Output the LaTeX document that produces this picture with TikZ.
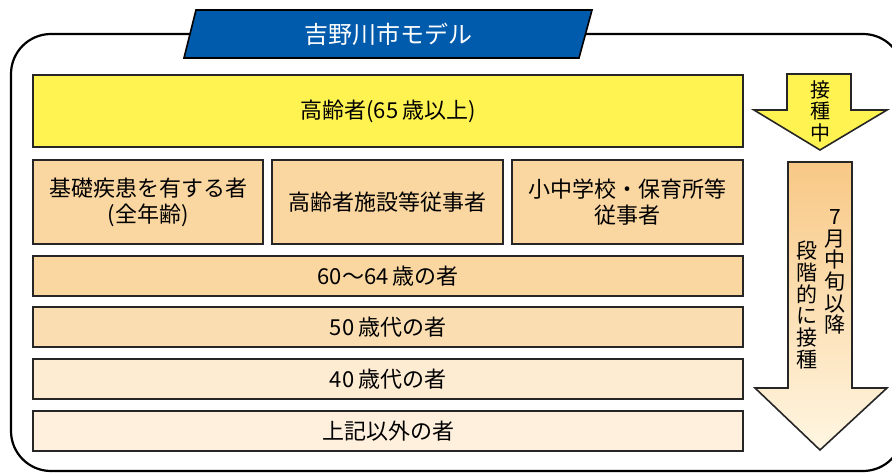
\documentclass[tikz,border=0pt]{standalone}
\usepackage{fontspec}
\setmainfont{Noto Sans CJK JP}
\usetikzlibrary{positioning}
\definecolor{modelblue}{HTML}{005BAC}
\definecolor{nowyellow}{HTML}{FFF352}
\definecolor{groupA}{HTML}{FAD6A0}
\definecolor{groupB}{HTML}{FBDDB2}
\definecolor{groupC}{HTML}{FDEBD2}
\definecolor{groupD}{HTML}{FEF0DD}
\definecolor{arrowtop}{HTML}{F8C885}
\definecolor{arrowbot}{HTML}{FFF6E2}
\tikzset{
  agebox/.style={draw=black!85, line width=1.6pt, inner sep=0pt},
  boxtext/.style={font=\fontsize{22}{26}\selectfont, align=center},
  tatetext/.style={font=\fontsize{20}{21.5}\selectfont, align=center, inner sep=0pt},
}
\begin{document}
\begin{tikzpicture}[x=1pt, y=-1pt]
\useasboundingbox (0,0) rectangle (892,473);
% frame
\draw[line width=2.2pt, rounded corners=40pt] (11,34) rectangle (903,471);
% title
\draw[fill=modelblue, draw=black, line width=1.6pt] (196,10) -- (592,10) -- (579,58) -- (184,58) -- cycle;
\node[text=white, font=\fontsize{24}{28}\selectfont] (title) at (388,34) {吉野川市モデル};
% groups
\node[agebox, boxtext, fill=nowyellow, minimum width=710pt, minimum height=72pt] (elder) at (388,111) {高齢者(65\,歳以上)};
\node[agebox, boxtext, fill=groupA, minimum width=230pt, minimum height=84pt] (disease) at (148,202) {基礎疾患を有する者\\(全年齢)};
\node[agebox, boxtext, fill=groupA, minimum width=231pt, minimum height=84pt] (facility) at (387.5,202) {高齢者施設等従事者};
\node[agebox, boxtext, fill=groupA, minimum width=231pt, minimum height=84pt] (school) at (627.5,202) {小中学校・保育所等\\従事者};
\node[agebox, boxtext, fill=groupA, minimum width=710pt, minimum height=40pt] (age60) at (388,276) {60～64\,歳の者};
\node[agebox, boxtext, fill=groupB, minimum width=710pt, minimum height=40pt] (age50) at (388,327) {50\,歳代の者};
\node[agebox, boxtext, fill=groupC, minimum width=710pt, minimum height=40pt] (age40) at (388,379) {40\,歳代の者};
\node[agebox, boxtext, fill=groupD, minimum width=710pt, minimum height=40pt] (others) at (388,431) {上記以外の者};
% arrows
\draw[fill=nowyellow, draw=black!85, line width=1.6pt] (787,74) -- (851,74) -- (851,110) -- (887,110)
  -- (820,150) -- (754,110) -- (787,110) -- cycle;
\node[tatetext] (now) at (820,111) {接\\種\\中};
\path[top color=arrowtop, bottom color=arrowbot, draw=black!85, line width=1.6pt] (788,162) -- (852,162) -- (852,388)
  -- (887,388) -- (820,450) -- (755,388) -- (788,388) -- cycle;
\node[tatetext, font=\fontsize{21}{21.7}\selectfont] (july) at (835,272) {7\\月\\中\\旬\\以\\降};
\node[tatetext, font=\fontsize{21}{21.7}\selectfont] (step) at (807,305) {段\\階\\的\\に\\接\\種};
\end{tikzpicture}
\end{document}
